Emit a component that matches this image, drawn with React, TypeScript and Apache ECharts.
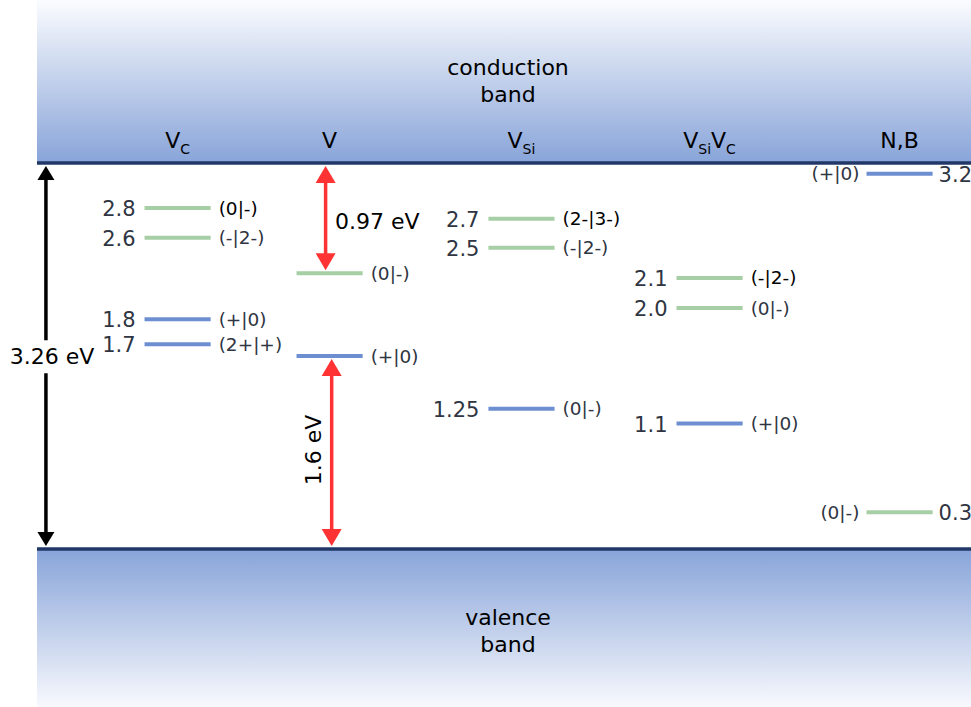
import React, { useEffect, useRef } from 'react';
import * as echarts from 'echarts';

// Energy scale (eV): valence band maximum at 0, conduction band minimum at the gap
const gapEnergy = 3.26;
const yMin = -1.334;
const yMax = 4.637;
const xMin = 0.45;
const xMax = 5.366;

// Defect columns
const columnNames = ['{b|V}{s|C}', '{b|V}', '{b|V}{s|Si}', '{b|V}{s|Si}{b|V}{s|C}', '{b|N,B}'];
const columnX = [1.19, 1.99, 3.0, 3.99, 4.99];
const titleEnergy = 3.45;

// Defect levels (position, printed value as label)
const levelColumn = [0, 0, 0, 0, 1, 1, 2, 2, 2, 3, 3, 3, 4, 4];
const levelEnergy = [2.88, 2.63, 1.94, 1.73, 2.33, 1.63, 2.79, 2.545, 1.185, 2.29, 2.035, 1.06, 3.17, 0.31];
const levelValueLabel = ['2.8', '2.6', '1.8', '1.7', '', '', '2.7', '2.5', '1.25', '2.1', '2.0', '1.1', '3.2', '0.3'];
const levelCharge = ['(0|-)', '(-|2-)', '(+|0)', '(2+|+)', '(0|-)', '(+|0)', '(2-|3-)', '(-|2-)', '(0|-)', '(-|2-)', '(0|-)', '(+|0)', '(+|0)', '(0|-)'];
const levelKind = ['acceptor', 'acceptor', 'donor', 'donor', 'acceptor', 'donor', 'acceptor', 'acceptor', 'donor', 'acceptor', 'acceptor', 'donor', 'donor', 'acceptor'];
const levelChargeDark = [true, false, false, false, false, false, true, false, false, true, false, false, false, false];
const levelMirrored = [false, false, false, false, false, false, false, false, false, false, false, false, true, true];

// Arrows
const arrowX = [0.497, 1.969, 2.001];
const arrowFrom = [0, levelEnergy[4], 0];
const arrowTo = [gapEnergy, gapEnergy, levelEnergy[5]];
const arrowKind = ['gap', 'red', 'red'];

// Annotations
const noteText = ['conduction\nband', 'valence\nband', '3.26 eV', '0.97 eV', '1.6 eV'];
const noteX = [2.929, 2.929, 0.529, 2.018, 1.903];
const noteY = [3.949, -0.693, 1.624, 2.77, 0.836];

// Bands
const bandTop = [yMax, 0];
const bandBottom = [gapEnergy, yMin];

const FONT = 'DejaVu Sans';
const HALF_W = 0.174;
const TEXT = '#2f3542';

function buildOption(): any {
  return {
    animation: false,
    textStyle: { fontFamily: FONT },
    grid: { left: 37, right: 0, top: 0, bottom: 0 },
    xAxis: { type: 'value', min: xMin, max: xMax, show: false },
    yAxis: { type: 'value', min: yMin, max: yMax, show: false },
    series: [
      {
        type: 'custom',
        name: 'bands',
        silent: true,
        data: bandTop.map((t, i) => [t, bandBottom[i], i]),
        renderItem: (params: any, api: any) => {
          const i = params.dataIndex;
          const p1 = api.coord([xMin, api.value(0)]);
          const p2 = api.coord([xMax, api.value(1)]);
          const stops =
            i === 0
              ? [
                  { offset: 0, color: '#fbfcfe' },
                  { offset: 1, color: '#88a4d9' },
                ]
              : [
                  { offset: 0, color: '#88a4d9' },
                  { offset: 1, color: '#f8f9fd' },
                ];
          const edgeY = i === 0 ? p2[1] : p1[1];
          return {
            type: 'group',
            children: [
              {
                type: 'rect',
                shape: { x: p1[0], y: p1[1], width: p2[0] - p1[0], height: p2[1] - p1[1] },
                style: { fill: new echarts.graphic.LinearGradient(0, 0, 0, 1, stops) },
              },
              {
                type: 'line',
                shape: { x1: p1[0], y1: edgeY, x2: p2[0], y2: edgeY },
                style: { stroke: '#213867', lineWidth: 3.5 },
              },
            ],
          };
        },
      },
      {
        type: 'custom',
        name: 'levels',
        silent: true,
        data: levelEnergy.map((e, i) => [columnX[levelColumn[i]], e, i]),
        renderItem: (params: any, api: any) => {
          const i = params.dataIndex;
          const x = api.value(0);
          const e = api.value(1);
          const p1 = api.coord([x - HALF_W, e]);
          const p2 = api.coord([x + HALF_W, e]);
          const color = levelKind[i] === 'donor' ? '#6d8fd2' : '#a7cfa6';
          const mirrored = levelMirrored[i];
          const chargeFill = levelChargeDark[i] ? '#000000' : TEXT;
          const children: any[] = [
            {
              type: 'line',
              shape: { x1: p1[0], y1: p1[1], x2: p2[0], y2: p2[1] },
              style: { stroke: color, lineWidth: 4 },
            },
          ];
          if (levelValueLabel[i]) {
            children.push({
              type: 'text',
              x: mirrored ? p2[0] + 6 : p1[0] - 9,
              y: p1[1] + 1,
              style: {
                text: levelValueLabel[i],
                fill: TEXT,
                fontSize: 21,
                fontFamily: FONT,
                align: mirrored ? 'left' : 'right',
                verticalAlign: 'middle',
              },
            });
          }
          children.push({
            type: 'text',
            x: mirrored ? p1[0] - 7 : p2[0] + 8,
            y: p1[1],
            style: {
              text: levelCharge[i],
              fill: chargeFill,
              fontSize: 18.5,
              fontFamily: FONT,
              align: mirrored ? 'right' : 'left',
              verticalAlign: 'middle',
            },
          });
          return { type: 'group', children };
        },
      },
      {
        type: 'custom',
        name: 'arrows',
        silent: true,
        data: arrowX.map((x, i) => [x, arrowFrom[i], arrowTo[i]]),
        renderItem: (params: any, api: any) => {
          const i = params.dataIndex;
          const x = api.value(0);
          const pa = api.coord([x, api.value(1)]);
          const pb = api.coord([x, api.value(2)]);
          const px = pa[0];
          const top = Math.min(pa[1], pb[1]) + 3;
          const bot = Math.max(pa[1], pb[1]) - 3;
          const red = arrowKind[i] === 'red';
          const L = red ? 17 : 14;
          const W = red ? 20 : 17;
          const color = red ? '#ff3333' : '#000000';
          return {
            type: 'group',
            children: [
              {
                type: 'line',
                shape: { x1: px, y1: top + L - 1, x2: px, y2: bot - L + 1 },
                style: { stroke: color, lineWidth: 3.5 },
              },
              {
                type: 'polygon',
                shape: { points: [[px, top], [px - W / 2, top + L], [px + W / 2, top + L]] },
                style: { fill: color },
              },
              {
                type: 'polygon',
                shape: { points: [[px, bot], [px - W / 2, bot - L], [px + W / 2, bot - L]] },
                style: { fill: color },
              },
            ],
          };
        },
      },
      {
        type: 'custom',
        name: 'notes',
        silent: true,
        data: noteX.map((x, i) => [x, noteY[i], i]),
        renderItem: (params: any, api: any) => {
          const i = params.dataIndex;
          const p = api.coord([api.value(0), api.value(1)]);
          const style: any = {
            text: noteText[i],
            fill: '#000000',
            fontSize: 22,
            fontFamily: FONT,
            align: i === 3 ? 'left' : 'center',
            verticalAlign: 'middle',
            lineHeight: 27,
          };
          if (i === 2) {
            style.backgroundColor = '#ffffff';
            style.padding = [3, 0];
          }
          return {
            type: 'text',
            x: p[0],
            y: p[1],
            rotation: i === 4 ? Math.PI / 2 : 0,
            style,
          };
        },
      },
      {
        type: 'custom',
        name: 'titles',
        silent: true,
        data: columnX.map((x, i) => [x, titleEnergy, i]),
        renderItem: (params: any, api: any) => {
          const i = params.dataIndex;
          const p = api.coord([api.value(0), api.value(1)]);
          return {
            type: 'text',
            x: p[0],
            y: p[1],
            style: {
              text: columnNames[i],
              fill: '#000000',
              fontSize: 22,
              fontFamily: FONT,
              align: 'center',
              verticalAlign: 'middle',
              rich: {
                b: { fontSize: 22, lineHeight: 30, verticalAlign: 'middle', fill: '#000000', fontFamily: FONT },
                s: { fontSize: 14, lineHeight: 14, verticalAlign: 'bottom', fill: '#000000', fontFamily: FONT },
              },
            },
          };
        },
      },
    ],
  };
}

export default function App() {
  const ref = useRef<HTMLDivElement>(null);
  useEffect(() => {
    if (!ref.current) return;
    const chart = echarts.init(ref.current, null, { renderer: 'svg' });
    chart.setOption(buildOption());
    return () => chart.dispose();
  }, []);
  return (
    <div
      ref={ref}
      style={{ position: 'absolute', left: 0, top: 0, width: 971, height: 707 }}
    />
  );
}
